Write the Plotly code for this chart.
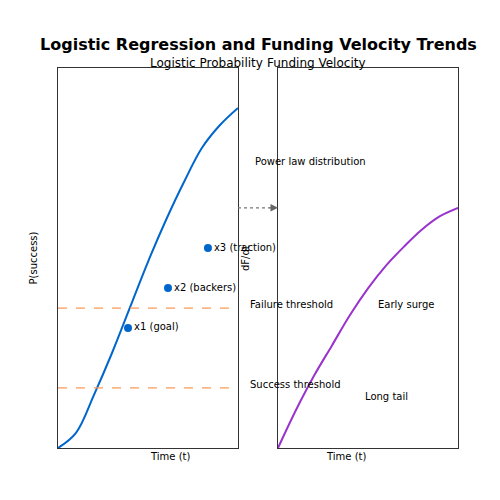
import plotly.graph_objects as go
from plotly.subplots import make_subplots

t = [0, 0.1, 0.2, 0.3, 0.4, 0.5, 0.6, 0.7, 0.8, 0.9, 1.0]
p_success = [0, 0.04, 0.14, 0.25, 0.37, 0.49, 0.60, 0.70, 0.79, 0.85, 0.895]
velocity = [0, 0.10, 0.19, 0.27, 0.35, 0.42, 0.48, 0.53, 0.575, 0.61, 0.632]
pt_x = [0.389, 0.611, 0.833]
pt_y = [0.316, 0.421, 0.526]
pt_labels = ["x1 (goal)", "x2 (backers)", "x3 (traction)"]
thresholds = [0.368, 0.158]
threshold_labels = ["Failure threshold", "Success threshold"]

fig = make_subplots(rows=1, cols=2)
fig.add_trace(go.Scatter(x=t, y=p_success, mode="lines", line=dict(color="#0066cc", width=2, shape="spline")), 1, 1)
fig.add_trace(go.Scatter(x=pt_x, y=pt_y, mode="markers+text", text=pt_labels, textposition="middle right",
                         textfont=dict(size=10, color="black"), marker=dict(color="#0066cc", size=8), cliponaxis=False), 1, 1)
for th in thresholds:
    fig.add_trace(go.Scatter(x=[0, 1], y=[th, th], mode="lines", line=dict(color="#ff9955", dash="dash", width=1.3)), 1, 1)
fig.add_trace(go.Scatter(x=t, y=velocity, mode="lines", line=dict(color="#9933cc", width=2, shape="spline")), 1, 2)

ax = dict(range=[0, 1], showticklabels=False, ticks="", showgrid=False, zeroline=False,
          showline=True, mirror=True, linecolor="#333", linewidth=1)
fig.update_xaxes(**ax)
fig.update_yaxes(**ax)
fig.update_layout(
    width=500, height=500, margin=dict(l=0, r=0, t=0, b=0), showlegend=False,
    plot_bgcolor="white", paper_bgcolor="white", font=dict(family="DejaVu Sans", color="black"),
    xaxis=dict(domain=[0.1, 0.46]), xaxis2=dict(domain=[0.54, 0.9]),
    yaxis=dict(domain=[0.12, 0.88]), yaxis2=dict(domain=[0.12, 0.88]),
)
ann = [
    (0.5, 0.95, "<b>Logistic Regression and Funding Velocity Trends</b>", 16, 0),
    (0.28, 0.908, "Logistic Probability", 12, 0),
    (0.72, 0.908, "Funding Velocity", 12, 0),
    (0.28, 0.088, "Time (t)", 10, 0),
    (0.72, 0.088, "Time (t)", 10, 0),
    (0.034, 0.5, "P(success)", 10, -90),
    (0.474, 0.5, "dF/dt", 10, -90),
    (0.72, 0.708, "Power law distribution", 10, 0),
    (0.856, 0.408, "Early surge", 10, 0),
    (0.804, 0.208, "Long tail", 10, 0),
]
for x, y, s, sz, rot in ann:
    fig.add_annotation(x=x, y=y, xref="paper", yref="paper", text=s, showarrow=False,
                       font=dict(size=sz), textangle=rot)
for th, lab in zip(thresholds, threshold_labels):
    fig.add_annotation(x=0.48, y=th + 0.01, xref="paper", yref="y", text=lab, showarrow=False,
                       xanchor="left", font=dict(size=10))
fig.add_shape(type="line", x0=0.46, x1=0.525, y0=0.632, y1=0.632, xref="paper", yref="y",
              line=dict(color="#777", width=1.3, dash="dot"))
fig.add_annotation(x=0, y=0.632, xref="x2", yref="y", axref="pixel", ayref="pixel", ax=-10, ay=0,
                   text="", showarrow=True, arrowhead=2, arrowsize=1.5, arrowwidth=1, arrowcolor="#666")
fig.write_html("out.html")
